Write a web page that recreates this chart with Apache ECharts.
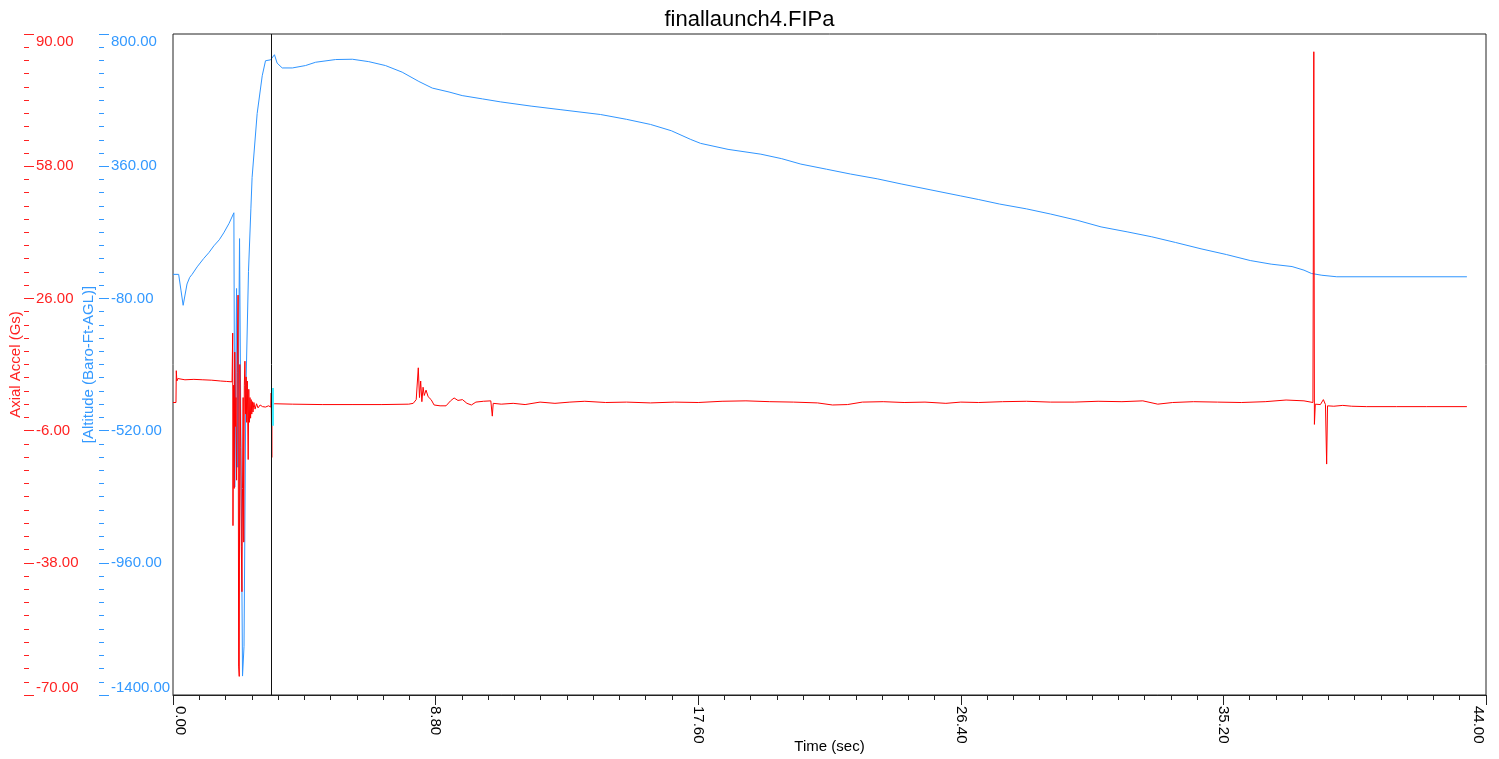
<!DOCTYPE html>
<html>
<head>
<meta charset="utf-8">
<script src="https://cdn.jsdelivr.net/npm/echarts@6/dist/echarts.min.js"></script>
<style>
html,body{margin:0;padding:0;background:#fff;}
#chart{width:1499px;height:759px;}
</style>
</head>
<body>
<div id="chart"></div>
<script>
// ---- chart text ----
const chartTitle = 'finallaunch4.FIPa';
const xName = 'Time (sec)';
const accelName = 'Axial Accel (Gs)';
const altName = '[Altitude (Baro-Ft-AGL)]';

// ---- axis ranges [min, max, interval] ----
const timeRange = [0, 44, 8.8];
const accelRange = [-70, 90, 32];
const altRange = [-1400, 800, 440];

// cursor position (sec)
const cursorTime = 3.30;

// ---- altitude (ft AGL) vs time (sec) ----
const altData = [
  [0, 0], [0.19, 0], [0.27, -55], [0.34, -103], [0.40, -100], [0.47, -32], [0.56, -10], [0.64, 0],
  [0.81, 25], [1.03, 53], [1.20, 72], [1.37, 95], [1.55, 115], [1.70, 138], [1.88, 170], [2.04, 205],
  [2.07, -708], [2.13, -47], [2.17, -642], [2.23, 119], [2.33, -1337], [2.38, -1238], [2.44, -401],
  [2.53, 10], [2.61, 218], [2.65, 322], [2.82, 535], [2.99, 661], [3.10, 711], [3.27, 714], [3.40, 731],
  [3.49, 703], [3.66, 687], [4.00, 687], [4.44, 695], [4.78, 706], [5.45, 715], [6.01, 716], [6.56, 708],
  [7.12, 695], [7.68, 673], [8.24, 642], [8.69, 620], [9.25, 607], [9.69, 595], [10.37, 584], [10.98, 574],
  [12.0, 560], [13.0, 548], [14.33, 532], [15.2, 516], [16.0, 499], [16.7, 478], [17.35, 449], [17.68, 436],
  [18.6, 416], [19.7, 400], [20.4, 385], [21.04, 367], [21.9, 350], [22.7, 334], [23.6, 318], [24.4, 301],
  [25.4, 281], [26.4, 261], [27.0, 249], [27.7, 234], [28.6, 218], [29.4, 201], [30.3, 180], [31.1, 158],
  [32.0, 141], [32.8, 125], [33.6, 106], [34.45, 85], [35.3, 66], [36.1, 46], [36.8, 34], [37.5, 26],
  [37.9, 14], [38.15, 3], [38.5, -3], [39.0, -8], [43.36, -8]
];

// ---- axial acceleration (G) vs time (sec) ----
const accelData = [
  [0, 0.8], [0.10, 0.8], [0.11, 8.5], [0.13, 6.0], [0.16, 6.6], [0.20, 6.3], [0.40, 6.3], [0.70, 6.4],
  [1.00, 6.3], [1.30, 6.2], [1.60, 6.0], [1.80, 5.9], [1.98, 5.8],
  [2.00, 17.6], [2.01, -29], [2.03, 5], [2.05, -20], [2.07, 13], [2.09, -5], [2.11, 2], [2.13, -18],
  [2.15, 8], [2.18, 26.8], [2.20, -63], [2.22, -65.5], [2.24, 10], [2.27, -10], [2.29, -34], [2.31, -45],
  [2.33, -20], [2.35, 2], [2.37, -33], [2.39, 5], [2.41, 10.8], [2.43, -2], [2.45, 7], [2.47, -4],
  [2.49, 6], [2.52, -13], [2.54, 4], [2.56, -4], [2.58, 2], [2.60, -3], [2.62, 1.5], [2.64, -2],
  [2.66, 1], [2.68, -1.5], [2.71, 0.8], [2.75, -0.8], [2.80, 0.5], [2.85, -0.5], [2.92, 0.2], [3.00, -0.2],
  [3.10, -0.3], [3.20, 0.0], [3.28, -0.3], [3.29, 3.1], [3.31, -12.5], [3.32, 0.6],
  [3.40, 0.5], [4.0, 0.4], [5.0, 0.3], [6.0, 0.3], [7.0, 0.3], [7.9, 0.4], [8.05, 0.6], [8.15, 1.5],
  [8.22, 9.2], [8.26, 2.0], [8.30, 6.0], [8.34, 1.0], [8.38, 4.5], [8.42, 2.5], [8.48, 3.8], [8.55, 2.2],
  [8.65, 1.5], [8.75, 0.2], [8.95, 0.0], [9.15, 0.0], [9.30, 1.2], [9.42, 1.9], [9.55, 1.3], [9.70, 1.5],
  [9.85, 0.6], [10.00, 0.2], [10.15, 0.9], [10.40, 1.1], [10.65, 1.2], [10.70, -2.5], [10.73, 0.6],
  [11.0, 0.4], [11.4, 0.6], [11.8, 0.3], [12.3, 0.9], [12.8, 0.6], [13.3, 0.9], [13.8, 1.1], [14.5, 0.8],
  [15.2, 0.9], [16.0, 0.7], [16.8, 0.9], [17.6, 0.8], [18.4, 1.1], [19.2, 1.2], [20.0, 1.0], [20.8, 0.9],
  [21.6, 0.7], [22.1, 0.2], [22.6, 0.3], [23.1, 0.9], [23.8, 1.0], [24.5, 0.8], [25.2, 0.9], [25.9, 0.6],
  [26.4, 0.9], [27.0, 0.8], [27.8, 1.0], [28.6, 1.1], [29.4, 0.9], [30.2, 0.9], [31.0, 1.1], [31.8, 1.0],
  [32.5, 1.2], [33.0, 0.4], [33.5, 0.8], [34.2, 1.0], [35.0, 0.9], [35.8, 0.8], [36.6, 1.0], [37.3, 1.4],
  [37.9, 1.2], [38.20, 0.8], [38.23, 85.7], [38.25, -4.5], [38.28, 0.4], [38.45, 0.3], [38.55, 1.5],
  [38.62, 0.3], [38.66, -14.1], [38.69, 0.0], [38.9, -0.1], [39.2, 0.1], [39.5, -0.1], [40.0, -0.2],
  [41.0, -0.2], [42.0, -0.2], [43.36, -0.2]
];

const FONT = '"Liberation Sans", Arial, sans-serif';
const RED = '#ff2222';
const BLUE = '#3399ff';
const fmt = v => v.toFixed(2);

const chart = echarts.init(document.getElementById('chart'), null, {renderer: 'canvas'});
chart.setOption({
  animation: false,
  backgroundColor: '#fff',
  textStyle: {fontFamily: FONT},
  title: {
    text: chartTitle, left: 'center', top: 4,
    textStyle: {fontSize: 22, fontWeight: 'normal', color: '#000', fontFamily: FONT}
  },
  grid: {
    left: 172, right: 13, top: 34, bottom: 62,
    show: true, borderColor: '#222', borderWidth: 1, backgroundColor: '#fff'
  },
  xAxis: {
    type: 'value', min: timeRange[0], max: timeRange[1], interval: timeRange[2],
    name: xName, nameLocation: 'middle', nameGap: 44, nameMoveOverlap: false,
    nameTextStyle: {color: '#000', fontSize: 15, fontFamily: FONT},
    axisLine: {show: true, onZero: false, lineStyle: {color: '#222', width: 1}},
    axisTick: {show: true, length: 10, lineStyle: {color: '#222'}},
    minorTick: {show: true, splitNumber: 10, length: 5, lineStyle: {color: '#222'}},
    splitLine: {show: false},
    axisLabel: {
      rotate: -90, margin: 11, color: '#000', fontSize: 15, fontFamily: FONT,
      formatter: fmt, showMinLabel: true, showMaxLabel: true,
      verticalAlignMinLabel: 'bottom', verticalAlignMaxLabel: 'top'
    }
  },
  yAxis: [
    {
      type: 'value', position: 'left', offset: 149,
      min: accelRange[0], max: accelRange[1], interval: accelRange[2],
      name: accelName, nameLocation: 'middle', nameGap: 1, nameRotate: 90, nameMoveOverlap: false,
      nameTextStyle: {color: RED, fontSize: 15, fontFamily: FONT},
      axisLine: {show: false, onZero: false},
      axisTick: {show: true, inside: true, length: 10, lineStyle: {color: RED}},
      minorTick: {show: true, splitNumber: 10, length: 5, lineStyle: {color: RED}},
      splitLine: {show: false},
      axisLabel: {
        inside: true, margin: 12, color: RED, fontSize: 15, fontFamily: FONT,
        formatter: fmt, showMinLabel: true, showMaxLabel: true,
        verticalAlignMinLabel: 'bottom', verticalAlignMaxLabel: 'top'
      }
    },
    {
      type: 'value', position: 'left', offset: 74,
      min: altRange[0], max: altRange[1], interval: altRange[2],
      name: altName, nameLocation: 'middle', nameGap: 3, nameRotate: 90, nameMoveOverlap: false,
      nameTextStyle: {color: BLUE, fontSize: 15, fontFamily: FONT},
      axisLine: {show: false, onZero: false},
      axisTick: {show: true, inside: true, length: 10, lineStyle: {color: BLUE}},
      minorTick: {show: true, splitNumber: 10, length: 5, lineStyle: {color: BLUE}},
      splitLine: {show: false},
      axisLabel: {
        inside: true, margin: 12, color: BLUE, fontSize: 15, fontFamily: FONT,
        formatter: fmt, showMinLabel: true, showMaxLabel: true,
        verticalAlignMinLabel: 'bottom', verticalAlignMaxLabel: 'top'
      }
    }
  ],
  series: [
    {
      type: 'line', name: 'Altitude', yAxisIndex: 1, data: altData,
      symbol: 'none', showSymbol: false, z: 2,
      lineStyle: {color: '#2f95ff', width: 1}, itemStyle: {color: '#2f95ff'}
    },
    {
      type: 'line', name: 'Axial Accel', yAxisIndex: 0, data: accelData,
      symbol: 'none', showSymbol: false, z: 3,
      lineStyle: {color: '#ff0000', width: 1}, itemStyle: {color: '#ff0000'},
      markLine: {
        silent: true, animation: false, symbol: ['none', 'none'], label: {show: false},
        data: [
          {xAxis: cursorTime, lineStyle: {color: '#111', width: 1, type: 'solid'}},
          [
            {coord: [cursorTime + 0.03, 4.3], lineStyle: {color: '#44eeff', width: 2, type: 'solid'}},
            {coord: [cursorTime + 0.03, -4.8]}
          ]
        ]
      }
    }
  ]
});
</script>
</body>
</html>
